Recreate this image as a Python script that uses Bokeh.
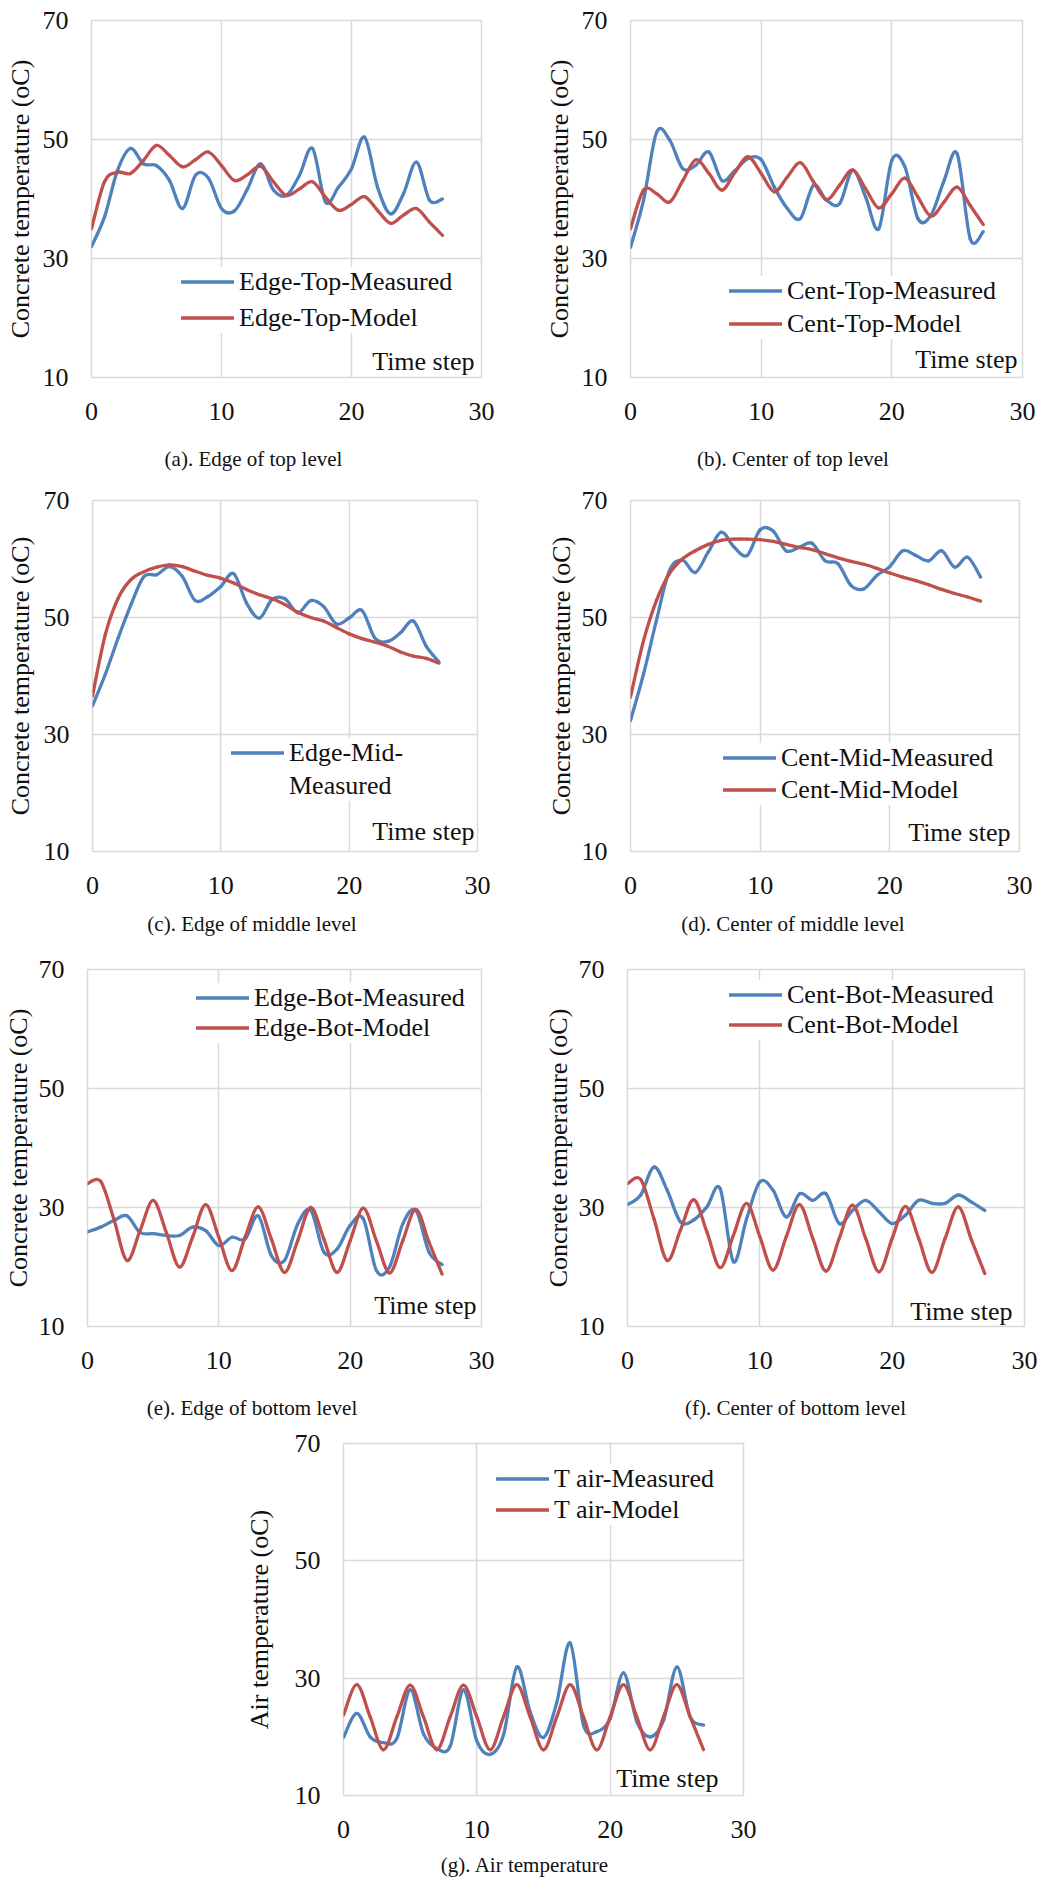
import numpy as np
from bokeh.plotting import figure
from bokeh.models import Range1d, FixedTicker, Label, Legend, LegendItem, ColumnDataSource, Div, Spacer
from bokeh.layouts import row, column
from bokeh.embed import file_html
from bokeh.resources import INLINE

# ---------------- data ----------------
time_step = list(range(28))

edge_top_measured = [32, 37, 44.8, 48.5, 45.9, 45.6, 43.1, 38.4, 44, 43.5, 38.4, 38, 41.7, 45.9,
                     41.5, 40.6, 44, 48.5, 39.5, 42, 45.1, 50.4, 42, 37.5, 40.9, 46.2, 39.8, 40]
edge_top_model = [35, 42.9, 44.5, 44.3, 46.5, 49, 47.3, 45.4, 46.6, 47.9, 45.6, 43.1, 44.1, 45.5,
                  42.9, 40.6, 41.7, 42.9, 40.3, 38.1, 39.1, 40.4, 38.1, 35.9, 37.3, 38.4, 36.1, 33.9]

cent_top_measured = [31.9, 39.8, 51.2, 49.9, 45.1, 45.7, 47.9, 43.1, 44.8, 46.8, 46.6, 42, 38.4, 36.7,
                     42.3, 39.8, 39.2, 44.8, 40.3, 35, 46.5, 45.4, 36.7, 37.3, 43.1, 47.6, 33.3, 34.5]
cent_top_model = [35, 41.5, 40.9, 39.5, 43.1, 46.6, 44.3, 41.5, 44.5, 47.1, 44.3, 41.2, 43.7, 46.1,
                  42.9, 39.9, 42.3, 44.9, 41.7, 38.5, 40.9, 43.5, 40.3, 37.1, 39.5, 42, 38.9, 35.7]

edge_mid_measured = [34.9, 40.3, 46.5, 52.2, 57, 57.3, 58.7, 57, 52.9, 53.6, 55.3, 57.5, 52.5, 49.9,
                     53.1, 53.2, 50.8, 52.9, 51.9, 48.9, 49.9, 51.2, 46.5, 45.9, 47.4, 49.4, 45.1, 42.4]
edge_mid_model = [36.6, 47.1, 53.3, 56.5, 57.8, 58.6, 59, 58.7, 57.9, 57.2, 56.7, 55.9, 54.8, 53.9,
                  53.2, 52.2, 50.9, 50, 49.4, 48.3, 47.2, 46.4, 45.8, 45.1, 44.1, 43.4, 43, 42.2]

cent_mid_measured = [32.4, 40.3, 49.5, 58, 59.8, 57.7, 61.2, 64.6, 62, 60.6, 65, 64.8, 61.4, 62,
                     62.7, 59.7, 59.2, 55.5, 54.9, 57.2, 58.7, 61.4, 60.6, 59.7, 61.4, 58.6, 60.3, 56.9]
cent_mid_model = [36.4, 46, 52.9, 57.5, 60, 61.4, 62.5, 63.2, 63.4, 63.4, 63.3, 63, 62.5, 62,
                  61.6, 60.9, 60.2, 59.6, 59.1, 58.4, 57.6, 56.9, 56.3, 55.6, 54.8, 54.1, 53.5, 52.8]

edge_bot_measured = [25.9, 26.7, 27.8, 28.6, 25.8, 25.6, 25.3, 25.3, 26.7, 26.1, 23.6, 25, 24.7, 28.6,
                     21.9, 21.1, 27.2, 29.5, 22.5, 23, 27, 28.1, 19.4, 20, 27.2, 29.5, 22.5, 20.4]
edge_bot_model = [34, 34.4, 28.1, 21.1, 26.1, 31.2, 25.8, 20, 25, 30.5, 25, 19.4, 25, 30.1,
                  24.7, 19.1, 24.4, 30, 24.7, 19.1, 24.4, 29.9, 24.4, 19, 24.4, 29.7, 24.2, 18.8]

cent_bot_measured = [30.5, 32.1, 36.8, 32.9, 27.6, 27.9, 30.1, 33.2, 20.9, 28.1, 34.3, 32.9, 28.4, 32.3,
                     31.2, 32.3, 27.3, 29.5, 31.2, 29.3, 27.3, 28.7, 31.2, 30.7, 30.7, 32.1, 30.9, 29.5]
cent_bot_model = [34, 34.7, 28.1, 21.1, 26.2, 31.3, 25.9, 19.9, 25.3, 30.7, 25.1, 19.5, 25.1, 30.5,
                  24.8, 19.3, 24.8, 30.4, 24.8, 19.2, 24.8, 30.2, 24.8, 19.1, 24.8, 30.1, 24.5, 18.9]

t_air_measured = [19.9, 24, 20, 19, 19.7, 28, 20.5, 18, 18.4, 28, 19.3, 17, 20.3, 31.9,
                  24.2, 19.9, 25.9, 36, 22, 20.9, 23.1, 30.9, 22.6, 20, 22.8, 31.9, 23.4, 22]
t_air_model = [23.7, 28.9, 23.4, 17.8, 23.4, 28.8, 23.4, 17.8, 23.4, 28.8, 23.4, 17.8, 23.4, 28.9,
               23.4, 17.8, 23.4, 28.9, 23.4, 17.8, 23.4, 28.9, 23.4, 17.8, 23.4, 28.9, 23.4, 17.8]

x_ticks = [0, 10, 20, 30]
y_ticks = [10, 30, 50, 70]

# ---------------- style ----------------
BLUE = "#4F81BD"
RED = "#C0504D"
GRID = "#D9D9D9"
FONT = "Liberation Serif"
TXT = "#111111"
LW = 3.3


def smooth_segments(xs, ys, k=1.0 / 6.0):
    """Cubic Bezier segments (Excel-like smoothed line) through the data points."""
    xs = np.asarray(xs, float)
    ys = np.asarray(ys, float)
    n = len(xs)
    d = {key: [] for key in ("x0", "y0", "x1", "y1", "cx0", "cy0", "cx1", "cy1")}
    for i in range(n - 1):
        im1 = max(i - 1, 0)
        ip2 = min(i + 2, n - 1)
        d["x0"].append(xs[i]); d["y0"].append(ys[i])
        d["x1"].append(xs[i + 1]); d["y1"].append(ys[i + 1])
        d["cx0"].append(xs[i] + (xs[i + 1] - xs[im1]) * k)
        d["cy0"].append(ys[i] + (ys[i + 1] - ys[im1]) * k)
        d["cx1"].append(xs[i + 1] - (xs[ip2] - xs[i]) * k)
        d["cy1"].append(ys[i + 1] - (ys[ip2] - ys[i]) * k)
    return ColumnDataSource(d)


def make_panel(cfg):
    ox, oy, W, H = cfg["box"]
    fl, ft, fw, fh = cfg["frame"]
    left = fl - ox
    top = ft - oy
    right = W - left - fw
    bottom = H - top - fh
    p = figure(width=W, height=H, x_range=Range1d(0, 30), y_range=Range1d(10, 70),
               output_backend="svg", toolbar_location=None, title=None,
               min_border_left=left, min_border_right=right, min_border_top=top,
               min_border_bottom=bottom)
    p.background_fill_color = "white"
    p.border_fill_color = "white"
    p.outline_line_color = GRID
    p.outline_line_width = 1.5

    xt = FixedTicker(ticks=x_ticks)
    yt = FixedTicker(ticks=y_ticks)
    p.xaxis.ticker = xt
    p.yaxis.ticker = yt
    p.xgrid.ticker = xt
    p.ygrid.ticker = yt
    for g in (p.xgrid, p.ygrid):
        g.grid_line_color = GRID
        g.grid_line_width = 1.5
    for ax in (p.xaxis, p.yaxis):
        ax.axis_line_color = None
        ax.major_tick_line_color = None
        ax.minor_tick_line_color = None
        ax.major_tick_out = 0
        ax.major_tick_in = 0
        ax.major_label_text_font = FONT
        ax.major_label_text_font_size = "26px"
        ax.major_label_text_color = TXT
    p.xaxis.major_label_standoff = 25
    p.yaxis.major_label_standoff = 23

    # y-axis title
    p.yaxis.axis_label = cfg["ylabel"]
    p.yaxis.axis_label_text_font = FONT
    p.yaxis.axis_label_text_font_size = "26px"
    p.yaxis.axis_label_text_font_style = "normal"
    p.yaxis.axis_label_text_color = TXT
    p.yaxis.axis_label_standoff = cfg["ylab_standoff"]

    frame_bottom = ft + fh

    # curves
    r_meas = p.bezier(x0="x0", y0="y0", x1="x1", y1="y1", cx0="cx0", cy0="cy0", cx1="cx1", cy1="cy1",
                      source=smooth_segments(time_step, cfg["measured"]),
                      line_color=BLUE, line_width=LW, line_cap="round")
    r_model = p.bezier(x0="x0", y0="y0", x1="x1", y1="y1", cx0="cx0", cy0="cy0", cx1="cx1", cy1="cy1",
                       source=smooth_segments(time_step, cfg["model"]),
                       line_color=RED, line_width=LW, line_cap="round")

    # legend
    gx0, c1, pitch = cfg["legend_pos"]
    labels = cfg["labels"]
    items = [LegendItem(label=labels[0], renderers=[r_meas])]
    if cfg.get("wrap"):
        blank = p.line(x=[], y=[], line_alpha=0)
        items.append(LegendItem(label=labels[1], renderers=[blank]))
    else:
        items.append(LegendItem(label=labels[1], renderers=[r_model]))
    n = len(items)
    hrow = 29
    pad = 4
    sp = pitch - hrow
    ltop = c1 - hrow / 2 - pad
    lheight = 2 * pad + n * hrow + (n - 1) * sp
    leg = Legend(items=items, location=(gx0 - fl - pad, frame_bottom - (ltop + lheight)),
                 orientation="vertical", background_fill_color="white", background_fill_alpha=1.0,
                 border_line_color=None, padding=pad, spacing=sp, margin=0,
                 glyph_width=53, glyph_height=hrow, label_height=hrow, label_standoff=5,
                 label_text_font=FONT, label_text_font_size="26px", label_text_color=TXT)
    p.add_layout(leg)

    # "Time step" inside the plot area
    inset, base = cfg["timestep"]
    p.add_layout(Label(x=fw - inset, y=base, x_units="screen", y_units="screen", text="Time step",
                       text_align="right", text_baseline="alphabetic", text_font=FONT,
                       text_font_size="26px", text_color=TXT))
    return p


def caption(text, width, height, line_h):
    return Div(text=text, width=width, height=height, margin=0,
               styles={"font-family": FONT, "font-size": "21px", "line-height": f"{line_h}px",
                       "text-align": "center", "color": TXT, "white-space": "nowrap",
                       "overflow": "visible"})


CT = "Concrete temperature (oC)"
panels = [
    dict(box=(0, 0, 520, 445), frame=(91, 20, 390, 357), measured=edge_top_measured, model=edge_top_model,
         labels=["Edge-Top-Measured", "Edge-Top-Model"], legend_pos=(185, 279, 35), timestep=(7, 16),
         ylabel=CT, ylab_standoff=5),
    dict(box=(520, 0, 521, 445), frame=(630, 20, 392, 357), measured=cent_top_measured, model=cent_top_model,
         labels=["Cent-Top-Measured", "Cent-Top-Model"], legend_pos=(733, 288, 32), timestep=(5, 18),
         ylabel=CT, ylab_standoff=5),
    dict(box=(0, 480, 520, 430), frame=(92, 499, 385, 352), measured=edge_mid_measured, model=edge_mid_model,
         labels=["Edge-Mid-", "Measured"], wrap=True, legend_pos=(235, 750, 32), timestep=(3, 20),
         ylabel=CT, ylab_standoff=6),
    dict(box=(520, 480, 521, 430), frame=(630, 500, 389, 351), measured=cent_mid_measured, model=cent_mid_model,
         labels=["Cent-Mid-Measured", "Cent-Mid-Model"], legend_pos=(727, 755, 31), timestep=(9, 19),
         ylabel=CT, ylab_standoff=3),
    dict(box=(0, 955, 520, 435), frame=(85, 968, 396, 358), measured=edge_bot_measured, model=edge_bot_model,
         labels=["Edge-Bot-Measured", "Edge-Bot-Model"], legend_pos=(198, 997, 27), timestep=(7, 21),
         ylabel=CT, ylab_standoff=3),
    dict(box=(520, 955, 521, 435), frame=(627, 969, 397, 357), measured=cent_bot_measured, model=cent_bot_model,
         labels=["Cent-Bot-Measured", "Cent-Bot-Model"], legend_pos=(733, 992, 29), timestep=(12, 15),
         ylabel=CT, ylab_standoff=3),
    dict(box=(0, 1430, 1041, 420), frame=(343, 1443, 400, 352), measured=t_air_measured, model=t_air_model,
         labels=["T air-Measured", "T air-Model"], legend_pos=(500, 1476, 30), timestep=(25, 17),
         ylabel="Air temperature (oC)", ylab_standoff=18),
]

figs = [make_panel(c) for c in panels]

captions_txt = ["(a). Edge of top level", "(b). Center of top level",
                "(c). Edge of middle level", "(d). Center of middle level",
                "(e). Edge of bottom level", "(f). Center of bottom level",
                "(g). Air temperature"]

cap1 = row(caption(captions_txt[0], 507, 35, 29), Spacer(width=38, height=35, margin=0),
           caption(captions_txt[1], 496, 35, 29))
cap2 = row(caption(captions_txt[2], 504, 45, 29), Spacer(width=41, height=45, margin=0),
           caption(captions_txt[3], 496, 45, 29))
cap3 = row(caption(captions_txt[4], 504, 40, 36), Spacer(width=46, height=40, margin=0),
           caption(captions_txt[5], 491, 40, 36))
cap4 = row(Spacer(width=8, height=33, margin=0), caption(captions_txt[6], 1033, 33, 30))

layout = column(row(figs[0], figs[1]), cap1,
                row(figs[2], figs[3]), cap2,
                row(figs[4], figs[5]), cap3,
                figs[6], cap4)

open("out.html", "w").write(file_html(layout, INLINE))
